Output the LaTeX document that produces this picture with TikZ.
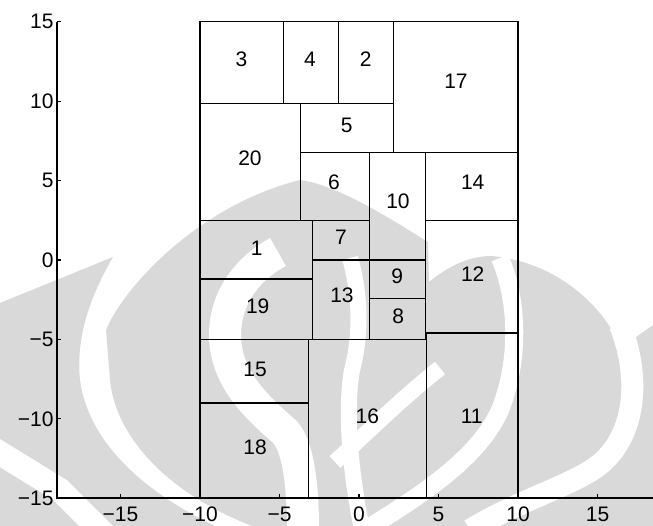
\documentclass[tikz,border=0pt]{standalone}
\usepackage{fontspec}
\setmainfont{Liberation Sans}
\definecolor{wm}{RGB}{217,217,217}
\tikzset{
  box/.style={draw=black, line width=1.2pt},
  lbl/.style={inner sep=0pt, font=\fontsize{21}{21}\selectfont},
  axisline/.style={draw=black, line width=1.4pt},
  tickmark/.style={draw=black, line width=1.1pt},
  wband/.style={draw=white, line width=#1, line cap=butt},
}
\begin{document}
\begin{tikzpicture}
\useasboundingbox (0,0) rectangle (653pt,526pt);
% ---------- watermark (pixel coordinates, y downwards) ----------
\begin{scope}[x=1pt,y=-1pt,yshift=526pt]
  \clip (0,0) rectangle (653,526);
  % outer left ring
  \fill[wm] (0,303) -- (113,257) .. controls (88,300) and (76,340) .. (80,380)
    .. controls (88,440) and (140,490) .. (215,526) -- (0,526) -- cycle;
  % inner region
  \fill[wm] (106,330) .. controls (125,285) and (200,205) .. (300,180)
    .. controls (340,185) and (400,225) .. (428,242)
    -- (429,282)
    .. controls (450,265) and (470,256) .. (492,256)
    .. controls (550,262) and (590,295) .. (612,330)
    -- (625,345) -- (653,325) -- (653,526) -- (252,526)
    .. controls (172,495) and (116,440) .. (110,380) -- cycle;
  % bottom-left stripe
  \draw[wband=24pt] (-10,447) -- (60,490) -- (110,540);
  % inner left band
  \draw[wband=32pt] (278,252) .. controls (245,270) and (225,300) .. (225,335)
    .. controls (225,380) and (260,410) .. (285,432)
    .. controls (297,445) and (303,480) .. (303,530);
  % central bands
  \draw[wband=16pt] (350,258) .. controls (362,300) and (360,340) .. (352,370)
    .. controls (345,410) and (350,470) .. (362,530);
  \draw[wband=16pt] (440,368) .. controls (400,400) and (370,430) .. (335,462);
  % inner right band
  \draw[wband=18pt] (500,258) .. controls (518,300) and (520,360) .. (500,410)
    .. controls (480,455) and (430,490) .. (365,530);
  % outer right band
  \draw[wband=22pt] (620,325) .. controls (642,380) and (635,440) .. (595,468)
    .. controls (565,488) and (520,500) .. (470,530);
\end{scope}
% ---------- plot (data coordinates) ----------
\begin{scope}[shift={(359pt,266pt)}, x=15.9pt, y=15.88pt]
  % boxes
  \draw[box] (-10,9.85) rectangle (-4.75,15);
  \draw[box] (-4.75,9.85) rectangle (-1.3,15);
  \draw[box] (-1.3,9.85) rectangle (2.15,15);
  \draw[box] (2.15,6.75) rectangle (10,15);
  \draw[box] (-3.7,6.75) rectangle (2.15,9.85);
  \draw[box] (-10,2.5) rectangle (-3.7,9.85);
  \draw[box] (-3.7,2.5) rectangle (0.65,6.75);
  \draw[box] (0.65,0) rectangle (4.2,6.75);
  \draw[box] (4.2,2.5) rectangle (10,6.75);
  \draw[box] (-10,-1.2) rectangle (-2.9,2.5);
  \draw[box] (-2.9,0) rectangle (0.65,2.5);
  \draw[box] (-10,-5) rectangle (-2.9,-1.2);
  \draw[box] (-2.9,-5) rectangle (0.65,0);
  \draw[box] (0.65,-2.45) rectangle (4.2,0);
  \draw[box] (0.65,-5) rectangle (4.2,-2.45);
  \draw[box] (4.2,-4.6) rectangle (10,2.5);
  \draw[box] (-10,-9) rectangle (-3.2,-5);
  \draw[box] (-10,-15) rectangle (-3.2,-9);
  \draw[box] (-3.2,-15) rectangle (4.25,-5);
  \draw[box] (4.25,-15) rectangle (10,-4.6);
  % box labels
  \node[lbl] (n3)  at (-7.4,12.66) {3};
  \node[lbl] (n4)  at (-3.08,12.66) {4};
  \node[lbl] (n2)  at (0.42,12.66) {2};
  \node[lbl] (n17) at (6.1,11.23) {17};
  \node[lbl] (n5)  at (-0.77,8.5) {5};
  \node[lbl] (n20) at (-6.86,6.4) {20};
  \node[lbl] (n6)  at (-1.57,4.87) {6};
  \node[lbl] (n10) at (2.45,3.67) {10};
  \node[lbl] (n14) at (7.15,4.87) {14};
  \node[lbl] (n1)  at (-6.43,0.74) {1};
  \node[lbl] (n7)  at (-1.13,1.43) {7};
  \node[lbl] (n9)  at (2.41,-1.05) {9};
  \node[lbl] (n12) at (7.15,-0.88) {12};
  \node[lbl] (n13) at (-1.07,-2.2) {13};
  \node[lbl] (n19) at (-6.37,-2.9) {19};
  \node[lbl] (n8)  at (2.47,-3.53) {8};
  \node[lbl] (n15) at (-6.54,-6.86) {15};
  \node[lbl] (n16) at (0.52,-9.82) {16};
  \node[lbl] (n11) at (7.09,-9.82) {11};
  \node[lbl] (n18) at (-6.54,-11.79) {18};
  % axes
  \draw[axisline] (-19,15) -- (-19,-15) -- (18.6,-15);
  \foreach \v/\t in {15/15,10/10,5/5,0/0,-5/−5,-10/−10,-15/−15} {
    \draw[tickmark] (-19,\v) -- ++(0.27,0);
    \draw[tickmark] (\v,-15) -- ++(0,0.27);
    \node[lbl, anchor=east] (yl\v) at (-19.2,\v) {\t};
    \node[lbl, anchor=north] (xl\v) at (\v,-15.55) {\t};
  }
\end{scope}
\end{tikzpicture}
\end{document}
